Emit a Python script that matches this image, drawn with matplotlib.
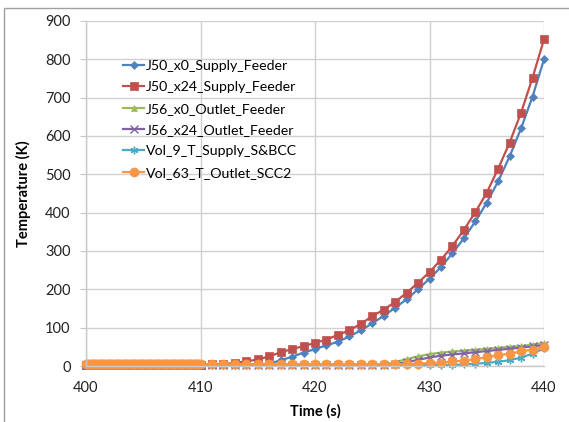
import numpy as np
import matplotlib
matplotlib.use("Agg")
import matplotlib.pyplot as plt
from matplotlib.patches import Rectangle

plt.rcParams['font.family'] = ['Lato', 'DejaVu Sans']

# ---- data ----
time_fine = np.round(np.arange(400.0, 410.0, 0.1), 1)
time_coarse = np.arange(410, 441)
time = np.concatenate([time_fine, time_coarse])
n_fine = len(time_fine)

j50_x0_coarse = [3, 3, 3, 3, 3, 4, 6, 15, 24, 35, 44, 54, 63, 77, 93, 111, 131, 152, 174,
                 200, 228, 258, 294, 333, 377, 426, 482, 547, 620, 703, 800]
j50_x24_coarse = [3, 4, 5, 8, 12, 17, 25, 36, 44, 52, 60, 69, 81, 93, 110, 130, 147, 167, 191,
                  217, 245, 277, 313, 355, 401, 452, 515, 583, 661, 752, 852]
j56_x0_coarse = [3, 3, 3, 3, 3, 3, 3, 3, 3, 3, 3, 3, 3, 3, 3, 3, 3, 10, 18,
                 25, 31, 35, 38, 40, 42, 45, 47, 50, 52, 56, 60]
j56_x24_coarse = [3, 3, 3, 3, 3, 3, 3, 3, 3, 3, 3, 3, 3, 3, 3, 3, 3, 5, 10,
                  16, 22, 27, 30, 33, 36, 39, 42, 45, 48, 51, 55]
vol9_coarse = [3, 3, 3, 3, 3, 3, 3, 3, 3, 3, 3, 3, 3, 3, 3, 3, 3, 3, 3,
               3, 3, 3, 3, 4, 6, 8, 11, 15, 22, 32, 46]
vol63_coarse = [4, 4, 4, 4, 4, 4, 4, 4, 4, 4, 4, 4, 4, 4, 4, 4, 4, 4, 5,
                6, 8, 9, 12, 14, 18, 23, 28, 32, 38, 43, 49]
fine_level = [3.0] * n_fine
fine_level_orange = [4.0] * n_fine

labels = ["J50_x0_Supply_Feeder", "J50_x24_Supply_Feeder", "J56_x0_Outlet_Feeder",
          "J56_x24_Outlet_Feeder", "Vol_9_T_Supply_S&BCC", "Vol_63_T_Outlet_SCC2"]
series = [
    fine_level + j50_x0_coarse,
    fine_level + j50_x24_coarse,
    fine_level + j56_x0_coarse,
    fine_level + j56_x24_coarse,
    fine_level + vol9_coarse,
    fine_level_orange + vol63_coarse,
]
colors = ["#4F81BD", "#C0504D", "#9BBB59", "#8064A2", "#4BACC6", "#F79646"]
markers = ["D", "s", "^", "x", (6, 2, 0), "o"]
msizes = [4.5, 6, 5, 5.5, 5.5, 6.5]

xticks = [400, 410, 420, 430, 440]
yticks = [0, 100, 200, 300, 400, 500, 600, 700, 800, 900]

# ---- figure ----
W, H = 569, 422
fig = plt.figure(figsize=(W / 100, H / 100), dpi=100)
ax = fig.add_axes([86 / W, 1 - 366 / H, (544 - 86) / W, (366 - 21) / H])

for y, lab, c, m, ms in zip(series, labels, colors, markers, msizes):
    ax.plot(time, y, color=c, marker=m, markersize=ms, linewidth=1.6, label=lab,
            markeredgewidth=1.0 if m in ("x", (6, 2, 0)) else 0.5,
            markeredgecolor=c, clip_on=False)

ax.set_xlim(400, 440)
ax.set_ylim(0, 900)
ax.set_xticks(xticks)
ax.set_yticks(yticks)
ax.grid(True, color="#D0D0D0", linewidth=1.0)
ax.set_axisbelow(True)
for s in ["top", "right"]:
    ax.spines[s].set_visible(False)
for s in ["left", "bottom"]:
    ax.spines[s].set_color("#C8C8C8")
    ax.spines[s].set_linewidth(1.0)
ax.tick_params(axis="y", direction="out", length=4, color="#C8C8C8", pad=7,
               labelsize=10.5, labelcolor="#222222")
ax.tick_params(axis="x", direction="out", length=0, pad=11,
               labelsize=10.5, labelcolor="#222222")
ax.set_xlabel("Time (s)", fontsize=10.5, fontweight="bold", labelpad=6)
ax.set_ylabel("Temperature (K)", fontsize=10.5, fontweight="bold", labelpad=10)

leg = ax.legend(loc="upper left", bbox_to_anchor=(123 / W, 1 - 60 / H),
                bbox_transform=fig.transFigure, frameon=False, fontsize=10.2,
                handlelength=1.5, handletextpad=0.1, labelspacing=0.66,
                borderpad=0, borderaxespad=0)

# chart area border
fig.patches.append(Rectangle((4 / W, -0.05), 1.2, 1 - 8 / H + 0.05,
                             transform=fig.transFigure, fill=False,
                             edgecolor="#A0A0A0", linewidth=1.0))

fig.savefig("out.png", dpi=100)
